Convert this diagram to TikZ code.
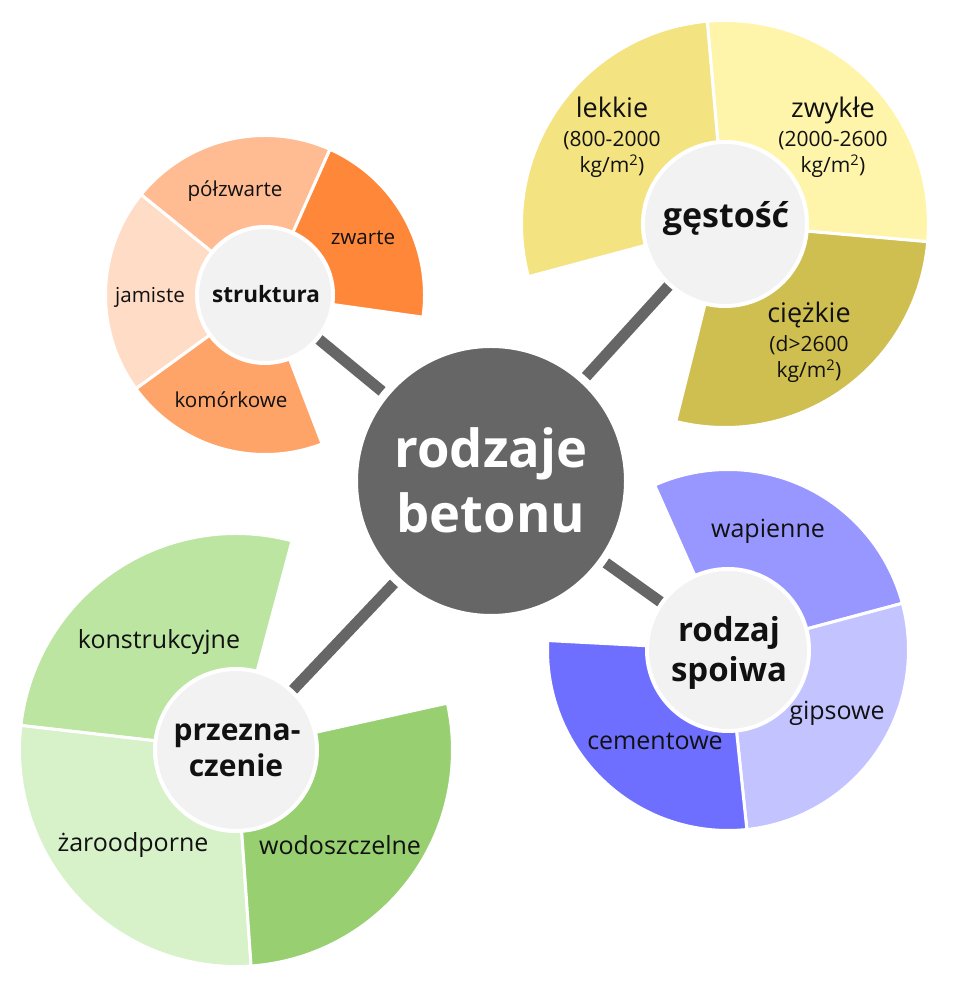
\documentclass[tikz,border=0pt]{standalone}
\usepackage{fontspec}
\setmainfont{Open Sans}
\definecolor{cgray}{HTML}{666666}
\definecolor{hubfill}{HTML}{F2F2F2}
\definecolor{labcol}{HTML}{111111}
\definecolor{czwarte}{HTML}{FF873A}
\definecolor{cpolzw}{HTML}{FFBB91}
\definecolor{cjamiste}{HTML}{FFDCC6}
\definecolor{ckomork}{HTML}{FFA469}
\definecolor{clekkie}{HTML}{F3E381}
\definecolor{czwykle}{HTML}{FFF5AA}
\definecolor{ciezkie}{HTML}{CFBE50}
\definecolor{cwapien}{HTML}{9797FF}
\definecolor{cgips}{HTML}{C3C3FF}
\definecolor{ccement}{HTML}{6F6FFF}
\definecolor{ckonstr}{HTML}{BBE5A1}
\definecolor{czaro}{HTML}{D7F1C9}
\definecolor{cwodo}{HTML}{97CF71}
\newcommand\mysector[5]{%
  \fill[#5,draw=white,line width=3pt,line join=miter]
    (#1) -- ++(#2:#4) arc[start angle=#2,end angle=#3,radius=#4] -- cycle;}
\begin{document}
\begin{tikzpicture}[x=1pt,y=1pt,
  conn/.style={draw=cgray,line width=11pt},
  hub/.style={circle,fill=hubfill,draw=white,line width=4pt,inner sep=0pt,outer sep=0pt},
  lab/.style={anchor=base,inner sep=0pt,outer sep=0pt,text=labcol},
  fs/.style={font=\fontsize{20.6}{24}\selectfont},
  fm/.style={font=\fontsize{25}{28}\selectfont},
  fg/.style={font=\fontsize{27}{30}\selectfont},
  fsm/.style={font=\fontsize{21}{24}\selectfont}]
\useasboundingbox (0,0) rectangle (960,988);
\fill[white] (0,0) rectangle (960,988);
% centres
\coordinate (c) at (491,507);
\coordinate (s) at (265,693);
\coordinate (g) at (725,764);
\coordinate (p) at (728,338);
\coordinate (z) at (236,238);
% sectors: struktura
\mysector{s}{-8}{66}{159.5pt}{czwarte}
\mysector{s}{66}{141}{159.5pt}{cpolzw}
\mysector{s}{141}{216}{159.5pt}{cjamiste}
\mysector{s}{216}{291}{159.5pt}{ckomork}
% gestosc
\mysector{g}{-5}{95}{203.5pt}{czwykle}
\mysector{g}{95}{195}{203.5pt}{clekkie}
\mysector{g}{256}{355}{203.5pt}{ciezkie}
% spoiwo
\mysector{p}{15}{114}{180.5pt}{cwapien}
\mysector{p}{-84}{15}{180.5pt}{cgips}
\mysector{p}{177}{276}{180.5pt}{ccement}
% przeznaczenie
\mysector{z}{75}{173.5}{216.5pt}{ckonstr}
\mysector{z}{173.5}{274}{216.5pt}{czaro}
\mysector{z}{274}{372.5}{216.5pt}{cwodo}
% connectors
\draw[conn] (c) -- (s);
\draw[conn] (c) -- (g);
\draw[conn] (c) -- (p);
\draw[conn] (c) -- (z);
% circles
\node[circle,fill=cgray,draw=white,line width=8pt,minimum size=274pt,inner sep=0pt] (cN) at (c) {};
\node[hub,minimum size=136pt] (sN) at (s) {};
\node[hub,minimum size=164pt] (gN) at (g) {};
\node[hub,minimum size=162pt] (pN) at (p) {};
\node[hub,minimum size=162pt] (zN) at (z) {};
% central text
\node[lab,text=white,font=\fontsize{52.5}{60}\selectfont\bfseries] (ct1) at (491,520) {rodzaje};
\node[lab,text=white,font=\fontsize{52.5}{60}\selectfont\bfseries] (ct2) at (491,455) {betonu};
% struktura
\node[lab,font=\fontsize{22.5}{24}\selectfont\bfseries] (st) at (266,685) {struktura};
\node[lab,fs] (s1) at (235,791) {półzwarte};
\node[lab,fs] (s2) at (363,743) {zwarte};
\node[lab,fs] (s3) at (150,685) {jamiste};
\node[lab,fs] (s4) at (231,580) {komórkowe};
% gestosc
\node[lab,font=\fontsize{34}{36}\selectfont\bfseries] (gt) at (726,760) {gęstość};
\node[lab,fg] (g1a) at (612,870) {lekkie};
\node[lab,fsm] (g1b) at (612,841) {(800-2000};
\node[lab,fsm] (g1c) at (612,815) {kg/m\textsuperscript{2})};
\node[lab,fg] (g2a) at (833,870) {zwykłe};
\node[lab,fsm] (g2b) at (833,841) {(2000-2600};
\node[lab,fsm] (g2c) at (833,815) {kg/m\textsuperscript{2})};
\node[lab,fg] (g3a) at (809,665) {ciężkie};
\node[lab,fsm] (g3b) at (809,636) {(d>2600};
\node[lab,fsm] (g3c) at (809,610) {kg/m\textsuperscript{2})};
% spoiwo
\node[lab,font=\fontsize{33}{36}\selectfont\bfseries] (pt1) at (729,346) {rodzaj};
\node[lab,font=\fontsize{33}{36}\selectfont\bfseries] (pt2) at (729,306) {spoiwa};
\node[lab,fm] (p1) at (768,450) {wapienne};
\node[lab,fm] (p2) at (837,268) {gipsowe};
\node[lab,fm] (p3) at (655,238) {cementowe};
% przeznaczenie
\node[lab,font=\fontsize{30}{32}\selectfont\bfseries] (zt1) at (237,247) {przezna-};
\node[lab,font=\fontsize{30}{32}\selectfont\bfseries] (zt2) at (236,211) {czenie};
\node[lab,fm] (z1) at (159,339) {konstrukcyjne};
\node[lab,fm] (z2) at (133,136) {żaroodporne};
\node[lab,fm] (z3) at (340,133) {wodoszczelne};
\end{tikzpicture}
\end{document}
